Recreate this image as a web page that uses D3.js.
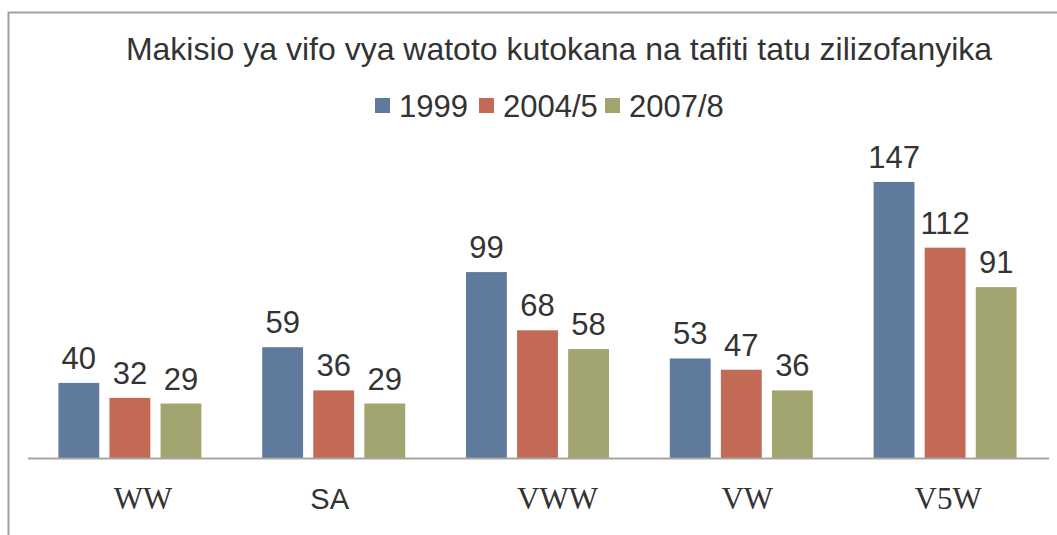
<!DOCTYPE html>
<html lang="en">
<head>
    <meta charset="UTF-8">
    <title>Makisio ya vifo vya watoto</title>
    <script src="https://d3js.org/d3.v7.min.js"></script>
    <style type="text/css">
        body { margin: 0; background: white; }
        text { fill: #333; }
    </style>
</head>
<body>
<script type="text/javascript">

    const categories = ["WW", "SA", "VWW", "VW", "V5W"];
    const seriesNames = ["1999", "2004/5", "2007/8"];
    const values1999 = [40, 59, 99, 53, 147];
    const values2004 = [32, 36, 68, 47, 112];
    const values2007 = [29, 29, 58, 36, 91];
    const colors = ["#5f7a9c", "#c26a55", "#a2a56f"];

    const allValues = [values1999, values2004, values2007];
    const width = 1057, height = 535;
    const baseY = 458;
    const sans = "'Liberation Sans', Arial, sans-serif";

    const svg = d3.select("body").append("svg")
        .attr("width", width)
        .attr("height", height);

    // outer chart frame (only top and left show)
    svg.append("path")
        .attr("d", "M8.5,535 V12.5 H1057")
        .attr("fill", "none")
        .attr("stroke", "#a59d99")
        .attr("stroke-width", 2);

    const x0 = d3.scaleBand().domain(categories).range([28, 1047]).padding(0);
    const x1 = d3.scaleBand().domain(seriesNames).range([-71.5, 71.5]).paddingInner(0.2);
    const y = d3.scaleLinear().domain([0, 160]).range([baseY, baseY - 160 * 1.878]);

    // title
    svg.append("text")
        .attr("x", 559).attr("y", 60)
        .attr("text-anchor", "middle")
        .style("font", "32px " + sans)
        .text("Makisio ya vifo vya watoto kutokana na tafiti tatu zilizofanyika");

    // legend
    const legendX = [375, 479, 605];
    const legend = svg.append("g");
    seriesNames.forEach(function(s, i) {
        legend.append("rect")
            .attr("x", legendX[i]).attr("y", 98)
            .attr("width", 15).attr("height", 15)
            .attr("fill", colors[i]);
        legend.append("text")
            .attr("x", legendX[i] + 24).attr("y", 117)
            .style("font", "31px " + sans)
            .text(s);
    });

    // bars
    const groups = svg.selectAll("g.cat")
        .data(categories)
        .enter().append("g")
        .attr("class", "cat")
        .attr("transform", d => "translate(" + (x0(d) + x0.bandwidth() / 2) + ",0)");

    groups.each(function(cat, ci) {
        const g = d3.select(this);
        seriesNames.forEach(function(s, si) {
            const v = allValues[si][ci];
            g.append("rect")
                .attr("x", x1(s))
                .attr("y", y(v))
                .attr("width", x1.bandwidth())
                .attr("height", baseY - y(v))
                .attr("fill", colors[si]);
            g.append("text")
                .attr("x", x1(s) + x1.bandwidth() / 2)
                .attr("y", y(v) - 14)
                .attr("text-anchor", "middle")
                .style("font", "31px " + sans)
                .text(v);
        });
    });

    // x axis
    svg.append("line")
        .attr("x1", 28).attr("x2", 1049)
        .attr("y1", baseY + 0.5).attr("y2", baseY + 0.5)
        .attr("stroke", "#aaa4a0")
        .attr("stroke-width", 2);

    // category labels (SA is set in a sans face in the original)
    const labelShift = [13, -4, 20, 6, 3];
    svg.selectAll("text.cat-label")
        .data(categories)
        .enter().append("text")
        .attr("class", "cat-label")
        .attr("x", (d, i) => x0(d) + x0.bandwidth() / 2 + labelShift[i])
        .attr("y", 509)
        .attr("text-anchor", "middle")
        .style("font", d => d === "SA" ? "29px " + sans : "31px 'Liberation Serif', 'Times New Roman', serif")
        .text(d => d);

</script>
</body>
</html>
